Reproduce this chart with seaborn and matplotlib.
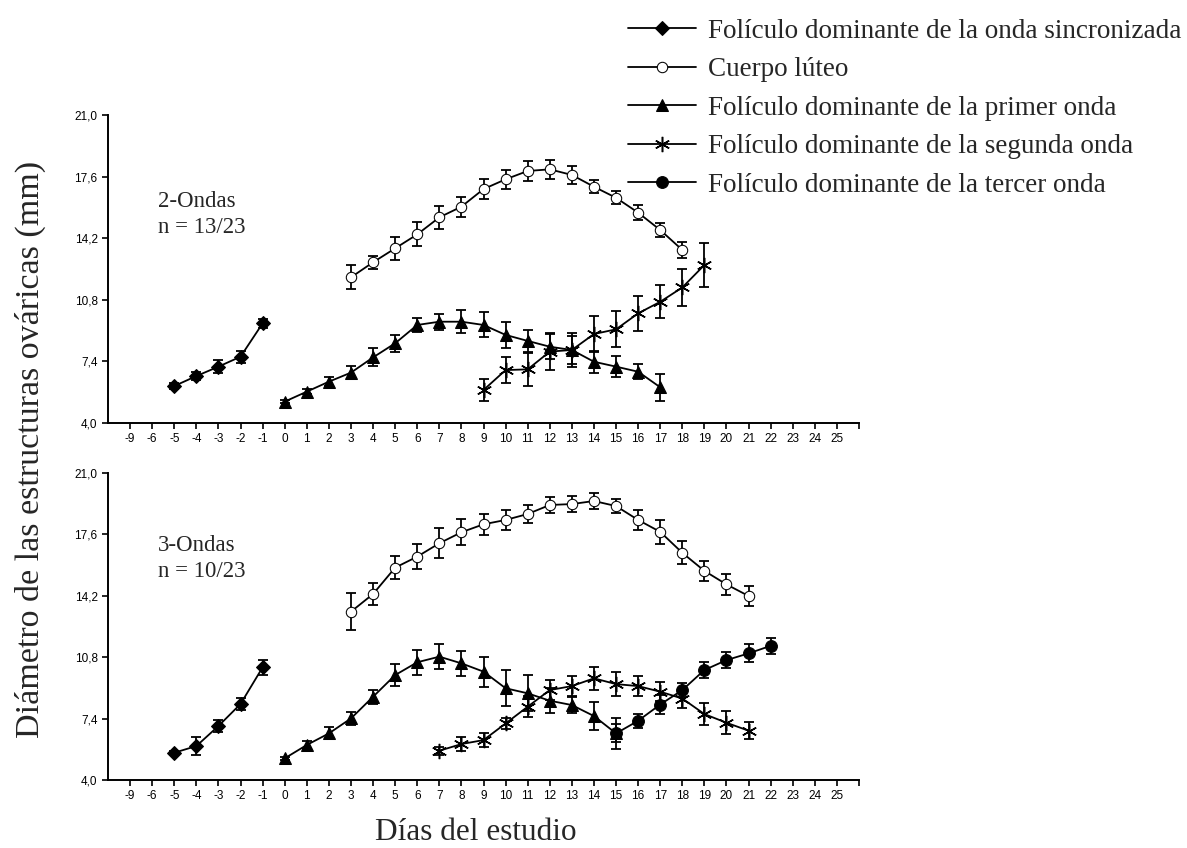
import numpy as np
import pandas as pd
import matplotlib
matplotlib.use('Agg')
import matplotlib.pyplot as plt
import seaborn as sns

# Days (x positions); label "-9" sits at position -7 (broken axis)
x_ticks = list(range(-7, 27))
x_tick_labels = ['-9'] + [str(d) for d in range(-6, 26)] + ['']
y_ticks = [4.0, 7.4, 10.8, 14.2, 17.6, 21.0]

labels = [
    'Folículo dominante de la onda sincronizada',
    'Cuerpo lúteo',
    'Folículo dominante de la primer onda',
    'Folículo dominante de la segunda onda',
    'Folículo dominante de la tercer onda',
]

# --- 2-Ondas ---
dias_sinc = [-5, -4, -3, -2, -1]
dos_sinc = [6.04, 6.59, 7.11, 7.66, 9.50]
dos_sinc_ee = [0.15, 0.20, 0.37, 0.33, 0.26]

dias_cl_dos = list(range(3, 19))
dos_cl = [12.04, 12.87, 13.64, 14.41, 15.35, 15.94, 16.91, 17.45, 17.91, 18.00,
          17.69, 17.04, 16.43, 15.61, 14.65, 13.55]
dos_cl_ee = [0.67, 0.37, 0.62, 0.66, 0.65, 0.55, 0.55, 0.52, 0.57, 0.53,
             0.49, 0.35, 0.35, 0.40, 0.41, 0.43]

dias_prim_dos = list(range(0, 18))
dos_prim = [5.18, 5.73, 6.28, 6.78, 7.62, 8.40, 9.41, 9.59, 9.59, 9.41,
            8.86, 8.53, 8.21, 8.03, 7.38, 7.11, 6.83, 5.97]
dos_prim_ee = [0.10, 0.15, 0.26, 0.35, 0.50, 0.46, 0.40, 0.44, 0.62, 0.69,
               0.74, 0.60, 0.70, 0.75, 0.60, 0.57, 0.42, 0.74]

dias_seg_dos = list(range(9, 20))
dos_seg = [5.82, 6.92, 6.96, 7.94, 8.03, 8.91, 9.17, 10.05, 10.69, 11.48, 12.72]
dos_seg_ee = [0.60, 0.72, 0.92, 1.00, 0.92, 1.00, 1.00, 0.95, 0.92, 1.03, 1.21]

# --- 3-Ondas ---
tres_sinc = [5.51, 5.88, 6.99, 8.21, 10.24]
tres_sinc_ee = [0.12, 0.50, 0.32, 0.35, 0.43]

dias_cl_tres = list(range(3, 22))
tres_cl = [13.32, 14.30, 15.76, 16.37, 17.11, 17.72, 18.16, 18.40, 18.73, 19.23,
           19.28, 19.45, 19.17, 18.40, 17.74, 16.58, 15.58, 14.83, 14.19]
tres_cl_ee = [1.03, 0.63, 0.63, 0.71, 0.83, 0.72, 0.58, 0.55, 0.50, 0.42,
              0.43, 0.42, 0.39, 0.55, 0.65, 0.63, 0.55, 0.60, 0.57]

dias_prim_tres = list(range(0, 16))
tres_prim = [5.20, 5.94, 6.58, 7.41, 8.61, 9.81, 10.52, 10.83, 10.46, 10.00,
             9.08, 8.80, 8.39, 8.15, 7.54, 6.58]
tres_prim_ee = [0.10, 0.20, 0.33, 0.35, 0.39, 0.63, 0.69, 0.69, 0.69, 0.83,
                1.00, 1.00, 0.69, 0.46, 0.76, 0.85]

dias_seg_tres = list(range(7, 22))
tres_seg = [5.62, 5.99, 6.21, 7.13, 8.06, 8.98, 9.20, 9.63, 9.31, 9.20,
            8.89, 8.51, 7.65, 7.17, 6.73]
tres_seg_ee = [0.23, 0.37, 0.41, 0.33, 0.57, 0.57, 0.57, 0.65, 0.65, 0.57,
               0.53, 0.53, 0.62, 0.65, 0.46]

dias_ter_tres = list(range(15, 23))
tres_ter = [6.58, 7.28, 8.18, 8.98, 10.09, 10.64, 11.01, 11.43]
tres_ter_ee = [0.50, 0.40, 0.53, 0.37, 0.46, 0.46, 0.50, 0.46]

# marker styles per series
estilos = [
    dict(marker='D', markersize=7.5, markerfacecolor='black'),
    dict(marker='o', markersize=7.5, markerfacecolor='white'),
    dict(marker='^', markersize=9, markerfacecolor='black'),
    dict(marker=(6, 2, 0), markersize=11, markerfacecolor='black', markeredgewidth=1.1),
    dict(marker='o', markersize=8.5, markerfacecolor='black'),
]

paneles = [
    ('2-Ondas\nn = 13/23', 15.5, [
        (0, dias_sinc, dos_sinc, dos_sinc_ee),
        (1, dias_cl_dos, dos_cl, dos_cl_ee),
        (2, dias_prim_dos, dos_prim, dos_prim_ee),
        (3, dias_seg_dos, dos_seg, dos_seg_ee),
    ]),
    ('3-Ondas\nn = 10/23', 16.25, [
        (0, dias_sinc, tres_sinc, tres_sinc_ee),
        (1, dias_cl_tres, tres_cl, tres_cl_ee),
        (2, dias_prim_tres, tres_prim, tres_prim_ee),
        (3, dias_seg_tres, tres_seg, tres_seg_ee),
        (4, dias_ter_tres, tres_ter, tres_ter_ee),
    ]),
]

sns.set_style('ticks')
plt.rcParams['font.family'] = ['Liberation Sans', 'DejaVu Sans']
serif = ['Liberation Serif', 'DejaVu Serif']

fig = plt.figure(figsize=(11.87, 8.48), dpi=100)
axes = [fig.add_axes([0.091, 0.5012, 0.6327, 0.3632]),
        fig.add_axes([0.091, 0.0802, 0.6327, 0.3620])]

for ax, (titulo, ty, series) in zip(axes, paneles):
    for idx, dias, media, ee in series:
        df = pd.DataFrame({'dia': dias, 'media': media})
        ax.errorbar(dias, media, yerr=ee, fmt='none', ecolor='black',
                    elinewidth=1.3, capsize=3.8, capthick=1.3, zorder=2)
        sns.lineplot(data=df, x='dia', y='media', ax=ax, color='black',
                     linewidth=1.3, markeredgecolor='black', label=labels[idx],
                     errorbar=None, zorder=3, **estilos[idx])
    ax.set_xlim(-8, 26)
    ax.set_ylim(4, 21)
    ax.set_xticks(x_ticks)
    ax.set_xticklabels(x_tick_labels, fontsize=8.5)
    ax.set_yticks(y_ticks)
    ax.set_yticklabels([f'{v:.1f}'.replace('.', ',') for v in y_ticks], fontsize=8.5)
    ax.tick_params(direction='out', length=4, width=1.2, colors='black')
    ax.set_xlabel('')
    ax.set_ylabel('')
    for s in ['left', 'bottom']:
        ax.spines[s].set_linewidth(1.4)
        ax.spines[s].set_color('black')
    sns.despine(ax=ax)
    ax.text(-5.75, ty, titulo, fontsize=16.5, family=serif, va='center',
            linespacing=1.3)

handles, leg_labels = axes[1].get_legend_handles_labels()
for ax in axes:
    ax.get_legend().remove()

fig.legend(handles, leg_labels, loc='upper left', bbox_to_anchor=(0.5155, 0.997),
           frameon=False, prop={'family': serif, 'size': 19.5}, handlelength=2.5,
           labelspacing=0.5, handletextpad=0.45, borderaxespad=0.2)

fig.text(0.026, 0.47, 'Diámetro de las estructuras ováricas (mm)', rotation=90,
         ha='center', va='center', fontsize=24.5, family=serif)
fig.text(0.401, 0.018, 'Días del estudio', ha='center', va='center',
         fontsize=22.5, family=serif)

fig.savefig('out.png', dpi=100)
